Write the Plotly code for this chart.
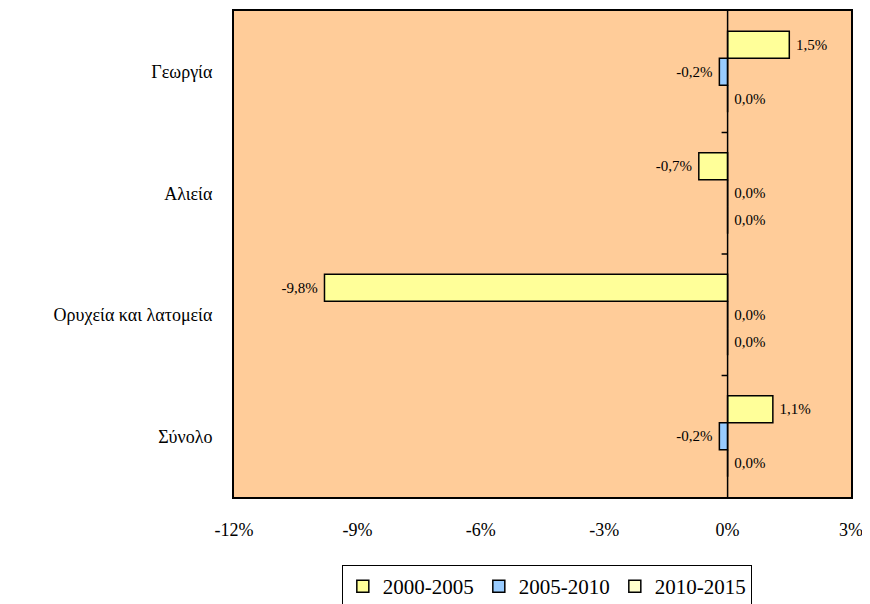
import plotly.graph_objects as go

categories = ["Γεωργία", "Αλιεία", "Ορυχεία και λατομεία", "Σύνολο"]
series_names = ["2000-2005", "2005-2010", "2010-2015"]
v_2000_2005 = [1.5, -0.7, -9.8, 1.1]
v_2005_2010 = [-0.2, 0.0, 0.0, -0.2]
v_2010_2015 = [0.0, 0.0, 0.0, 0.0]
x_ticks = [-12, -9, -6, -3, 0, 3]

colors = ["#FFFF99", "#99CCFF", "#FFFFCC"]
font_family = "Times New Roman, Liberation Serif, DejaVu Serif, serif"


def pct(v):
    s = f"{v:.1f}%".replace(".", ",")
    # a little extra room between the bar end and its label
    return s + "\u00a0" if v < 0 else "\u00a0" + s


fig = go.Figure()
for name, vals, col in zip(series_names, [v_2000_2005, v_2005_2010, v_2010_2015], colors):
    fig.add_trace(go.Bar(
        y=categories, x=vals, name=name, orientation="h",
        marker=dict(color=col, line=dict(color="black", width=1.5)),
        text=[pct(v) for v in vals], textposition="outside",
        textfont=dict(family=font_family, size=15, color="black"),
        cliponaxis=False,
    ))

# vertical axis line at zero, with tick marks between categories
shapes = [dict(type="line", xref="x", yref="paper", x0=0, x1=0, y0=0, y1=1,
               line=dict(color="black", width=1.5))]
for i in range(1, len(categories)):
    shapes.append(dict(type="line", xref="paper", yref="y",
                       x0=0.8 - 6 / 617, x1=0.8, y0=i - 0.5, y1=i - 0.5,
                       line=dict(color="black", width=1.5)))

fig.update_layout(
    width=870, height=604,
    margin=dict(l=226, r=27, t=3, b=115, autoexpand=False),
    paper_bgcolor="white", plot_bgcolor="#FFCC99",
    barmode="group", bargap=0.333, bargroupgap=0,
    font=dict(family=font_family, size=18, color="black"),
    showlegend=True,
    legend=dict(orientation="h", x=0.507, xanchor="center", y=-0.14, yanchor="top",
                bordercolor="black", borderwidth=1, font=dict(size=21),
                traceorder="normal", itemwidth=30),
    shapes=shapes,
)
fig.update_xaxes(range=[-12, 3], tickvals=x_ticks, ticktext=[f"{t}%" for t in x_ticks],
                 showgrid=False, zeroline=False, showline=True, mirror=True,
                 linecolor="black", linewidth=2, ticks="", ticklabelstandoff=15)
fig.update_yaxes(autorange="reversed", showgrid=False, zeroline=False, showline=True,
                 mirror=True, linecolor="black", linewidth=2, ticks="",
                 ticklabelstandoff=16)

fig.write_html("out.html")
